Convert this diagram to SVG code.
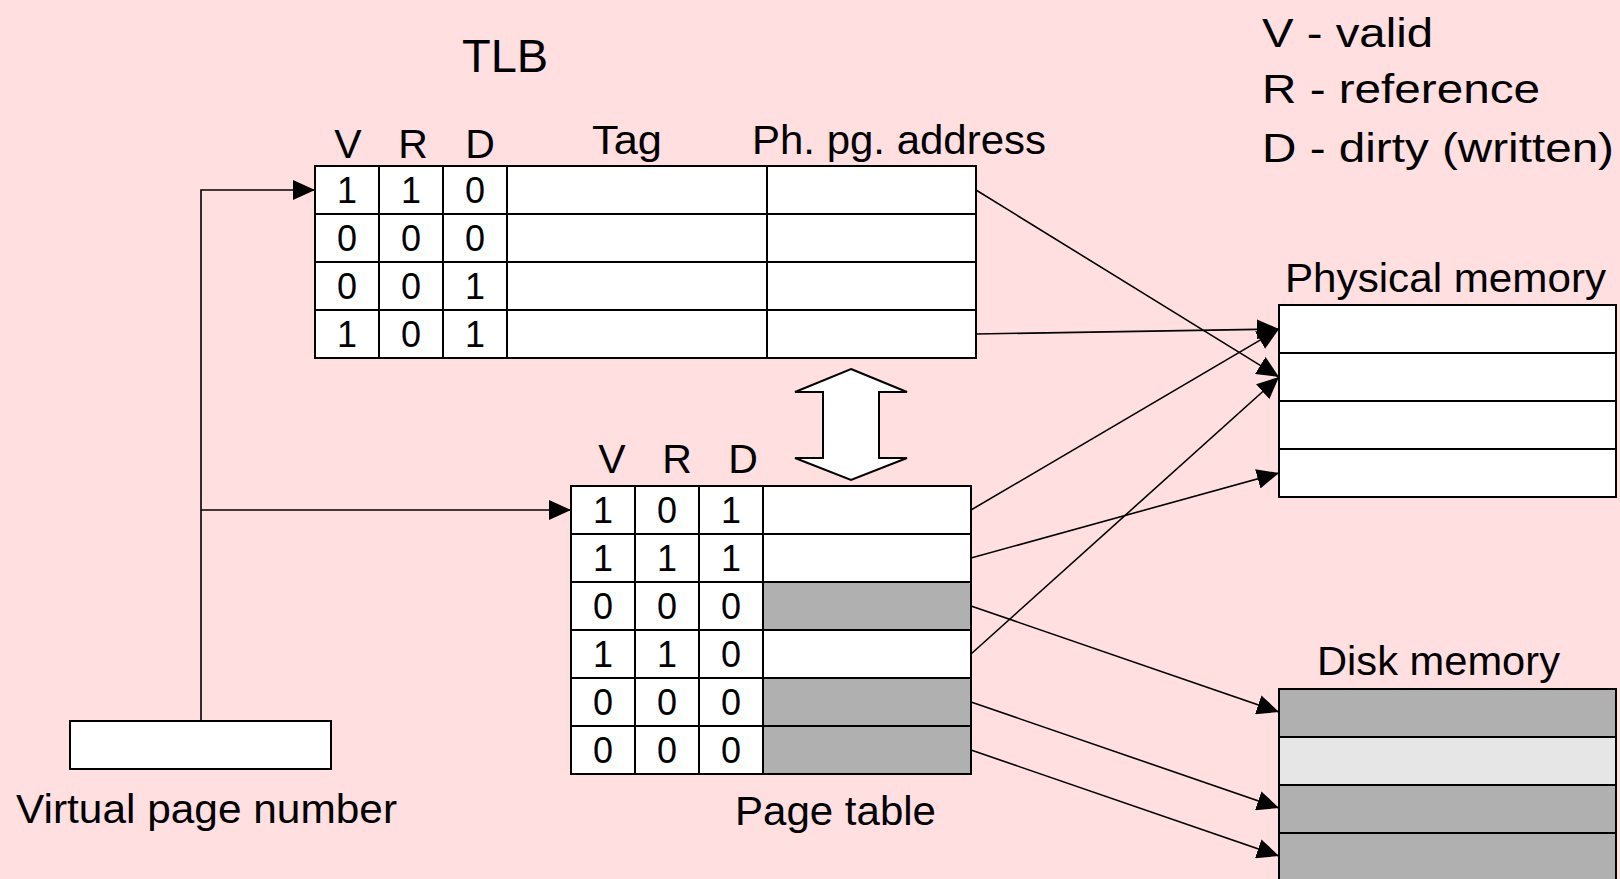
<svg xmlns="http://www.w3.org/2000/svg" width="1620" height="879" viewBox="0 0 1620 879">
  <style>
    text { font-family: "Liberation Sans", Arial, sans-serif; fill: #000; }
    .lbl { font-size: 41px; }
    .title { font-size: 47px; }
    .dig { font-size: 36px; text-anchor: middle; }
    .hdr { font-size: 41px; text-anchor: middle; }
    .cell { fill: #fff; stroke: #000; stroke-width: 2; }
    .gray { fill: #b0b0b0; stroke: #000; stroke-width: 2; }
    .lgray { fill: #e6e6e6; stroke: #000; stroke-width: 2; }
    .conn { fill: none; stroke: #000; stroke-width: 1.6; marker-end: url(#arrow); }
  </style>
  <defs>
    <marker id="arrow" markerUnits="userSpaceOnUse" markerWidth="22" markerHeight="20" refX="22" refY="10" orient="auto">
      <path d="M0,0 L22,10 L0,20 z" fill="#000"/>
    </marker>
  </defs>

  <rect x="0" y="0" width="1620" height="879" fill="#ffdfe0"/>

  <!-- legend -->
  <g id="legend">
    <text class="lbl" x="1262" y="47" textLength="171" lengthAdjust="spacingAndGlyphs">V - valid</text>
    <text class="lbl" x="1262" y="103" textLength="278" lengthAdjust="spacingAndGlyphs">R - reference</text>
    <text class="lbl" x="1262" y="162" textLength="352" lengthAdjust="spacingAndGlyphs">D - dirty (written)</text>
  </g>

  <!-- TLB -->
  <g id="tlb">
    <text class="title" x="462" y="72">TLB</text>
    <text class="hdr" x="348" y="158">V</text>
    <text class="hdr" x="413" y="158">R</text>
    <text class="hdr" x="480" y="158">D</text>
    <text class="lbl" x="592" y="154" textLength="70" lengthAdjust="spacingAndGlyphs">Tag</text>
    <text class="lbl" x="752" y="154" textLength="294" lengthAdjust="spacingAndGlyphs">Ph. pg. address</text>
    <!-- row 1 -->
    <rect class="cell" x="315" y="166" width="64" height="48"/>
    <rect class="cell" x="379" y="166" width="64" height="48"/>
    <rect class="cell" x="443" y="166" width="64" height="48"/>
    <rect class="cell" x="507" y="166" width="260" height="48"/>
    <rect class="cell" x="767" y="166" width="209" height="48"/>
    <!-- row 2 -->
    <rect class="cell" x="315" y="214" width="64" height="48"/>
    <rect class="cell" x="379" y="214" width="64" height="48"/>
    <rect class="cell" x="443" y="214" width="64" height="48"/>
    <rect class="cell" x="507" y="214" width="260" height="48"/>
    <rect class="cell" x="767" y="214" width="209" height="48"/>
    <!-- row 3 -->
    <rect class="cell" x="315" y="262" width="64" height="48"/>
    <rect class="cell" x="379" y="262" width="64" height="48"/>
    <rect class="cell" x="443" y="262" width="64" height="48"/>
    <rect class="cell" x="507" y="262" width="260" height="48"/>
    <rect class="cell" x="767" y="262" width="209" height="48"/>
    <!-- row 4 -->
    <rect class="cell" x="315" y="310" width="64" height="48"/>
    <rect class="cell" x="379" y="310" width="64" height="48"/>
    <rect class="cell" x="443" y="310" width="64" height="48"/>
    <rect class="cell" x="507" y="310" width="260" height="48"/>
    <rect class="cell" x="767" y="310" width="209" height="48"/>
    <text class="dig" x="347" y="203">1</text><text class="dig" x="411" y="203">1</text><text class="dig" x="475" y="203">0</text>
    <text class="dig" x="347" y="251">0</text><text class="dig" x="411" y="251">0</text><text class="dig" x="475" y="251">0</text>
    <text class="dig" x="347" y="299">0</text><text class="dig" x="411" y="299">0</text><text class="dig" x="475" y="299">1</text>
    <text class="dig" x="347" y="347">1</text><text class="dig" x="411" y="347">0</text><text class="dig" x="475" y="347">1</text>
  </g>

  <!-- exchange arrow between TLB and page table -->
  <g id="swap">
    <polygon points="851,369 907,392 879,392 879,458 907,458 851,480 795,458 823,458 823,392 795,392" fill="#fff" stroke="#000" stroke-width="2"/>
  </g>

  <!-- page table -->
  <g id="page-table">
    <text class="hdr" x="612" y="473">V</text>
    <text class="hdr" x="677" y="473">R</text>
    <text class="hdr" x="743" y="473">D</text>
    <rect class="cell" x="571" y="486" width="64" height="48"/><rect class="cell" x="635" y="486" width="64" height="48"/><rect class="cell" x="699" y="486" width="64" height="48"/><rect class="cell" x="763" y="486" width="208" height="48"/>
    <rect class="cell" x="571" y="534" width="64" height="48"/><rect class="cell" x="635" y="534" width="64" height="48"/><rect class="cell" x="699" y="534" width="64" height="48"/><rect class="cell" x="763" y="534" width="208" height="48"/>
    <rect class="cell" x="571" y="582" width="64" height="48"/><rect class="cell" x="635" y="582" width="64" height="48"/><rect class="cell" x="699" y="582" width="64" height="48"/><rect class="gray" x="763" y="582" width="208" height="48"/>
    <rect class="cell" x="571" y="630" width="64" height="48"/><rect class="cell" x="635" y="630" width="64" height="48"/><rect class="cell" x="699" y="630" width="64" height="48"/><rect class="cell" x="763" y="630" width="208" height="48"/>
    <rect class="cell" x="571" y="678" width="64" height="48"/><rect class="cell" x="635" y="678" width="64" height="48"/><rect class="cell" x="699" y="678" width="64" height="48"/><rect class="gray" x="763" y="678" width="208" height="48"/>
    <rect class="cell" x="571" y="726" width="64" height="48"/><rect class="cell" x="635" y="726" width="64" height="48"/><rect class="cell" x="699" y="726" width="64" height="48"/><rect class="gray" x="763" y="726" width="208" height="48"/>
    <text class="dig" x="603" y="523">1</text><text class="dig" x="667" y="523">0</text><text class="dig" x="731" y="523">1</text>
    <text class="dig" x="603" y="571">1</text><text class="dig" x="667" y="571">1</text><text class="dig" x="731" y="571">1</text>
    <text class="dig" x="603" y="619">0</text><text class="dig" x="667" y="619">0</text><text class="dig" x="731" y="619">0</text>
    <text class="dig" x="603" y="667">1</text><text class="dig" x="667" y="667">1</text><text class="dig" x="731" y="667">0</text>
    <text class="dig" x="603" y="715">0</text><text class="dig" x="667" y="715">0</text><text class="dig" x="731" y="715">0</text>
    <text class="dig" x="603" y="763">0</text><text class="dig" x="667" y="763">0</text><text class="dig" x="731" y="763">0</text>
    <text class="lbl" x="735" y="825" textLength="201" lengthAdjust="spacingAndGlyphs">Page table</text>
  </g>

  <!-- virtual page number -->
  <g id="vpn">
    <rect class="cell" x="70" y="721" width="261" height="48"/>
    <text class="lbl" x="16" y="823" textLength="381" lengthAdjust="spacingAndGlyphs">Virtual page number</text>
  </g>

  <!-- physical memory -->
  <g id="physical-memory">
    <text class="lbl" x="1285" y="292" textLength="321" lengthAdjust="spacingAndGlyphs">Physical memory</text>
    <rect class="cell" x="1279" y="305" width="337" height="48"/>
    <rect class="cell" x="1279" y="353" width="337" height="48"/>
    <rect class="cell" x="1279" y="401" width="337" height="48"/>
    <rect class="cell" x="1279" y="449" width="337" height="48"/>
  </g>

  <!-- disk memory -->
  <g id="disk-memory">
    <text class="lbl" x="1317" y="675" textLength="243" lengthAdjust="spacingAndGlyphs">Disk memory</text>
    <rect class="gray" x="1279" y="689" width="337" height="48"/>
    <rect class="lgray" x="1279" y="737" width="337" height="48"/>
    <rect class="gray" x="1279" y="785" width="337" height="48"/>
    <rect class="gray" x="1279" y="833" width="337" height="48"/>
  </g>

  <!-- connectors -->
  <g id="connectors">
    <polyline class="conn" points="201,721 201,190 315,190"/>
    <line class="conn" x1="201" y1="510" x2="571" y2="510"/>
    <line class="conn" x1="976" y1="190" x2="1279" y2="377"/>
    <line class="conn" x1="976" y1="334" x2="1279" y2="329"/>
    <line class="conn" x1="971" y1="510" x2="1279" y2="329"/>
    <line class="conn" x1="971" y1="558" x2="1279" y2="473"/>
    <line class="conn" x1="971" y1="654" x2="1279" y2="377"/>
    <line class="conn" x1="971" y1="606" x2="1279" y2="712"/>
    <line class="conn" x1="971" y1="702" x2="1279" y2="808"/>
    <line class="conn" x1="971" y1="750" x2="1279" y2="856"/>
  </g>
</svg>
